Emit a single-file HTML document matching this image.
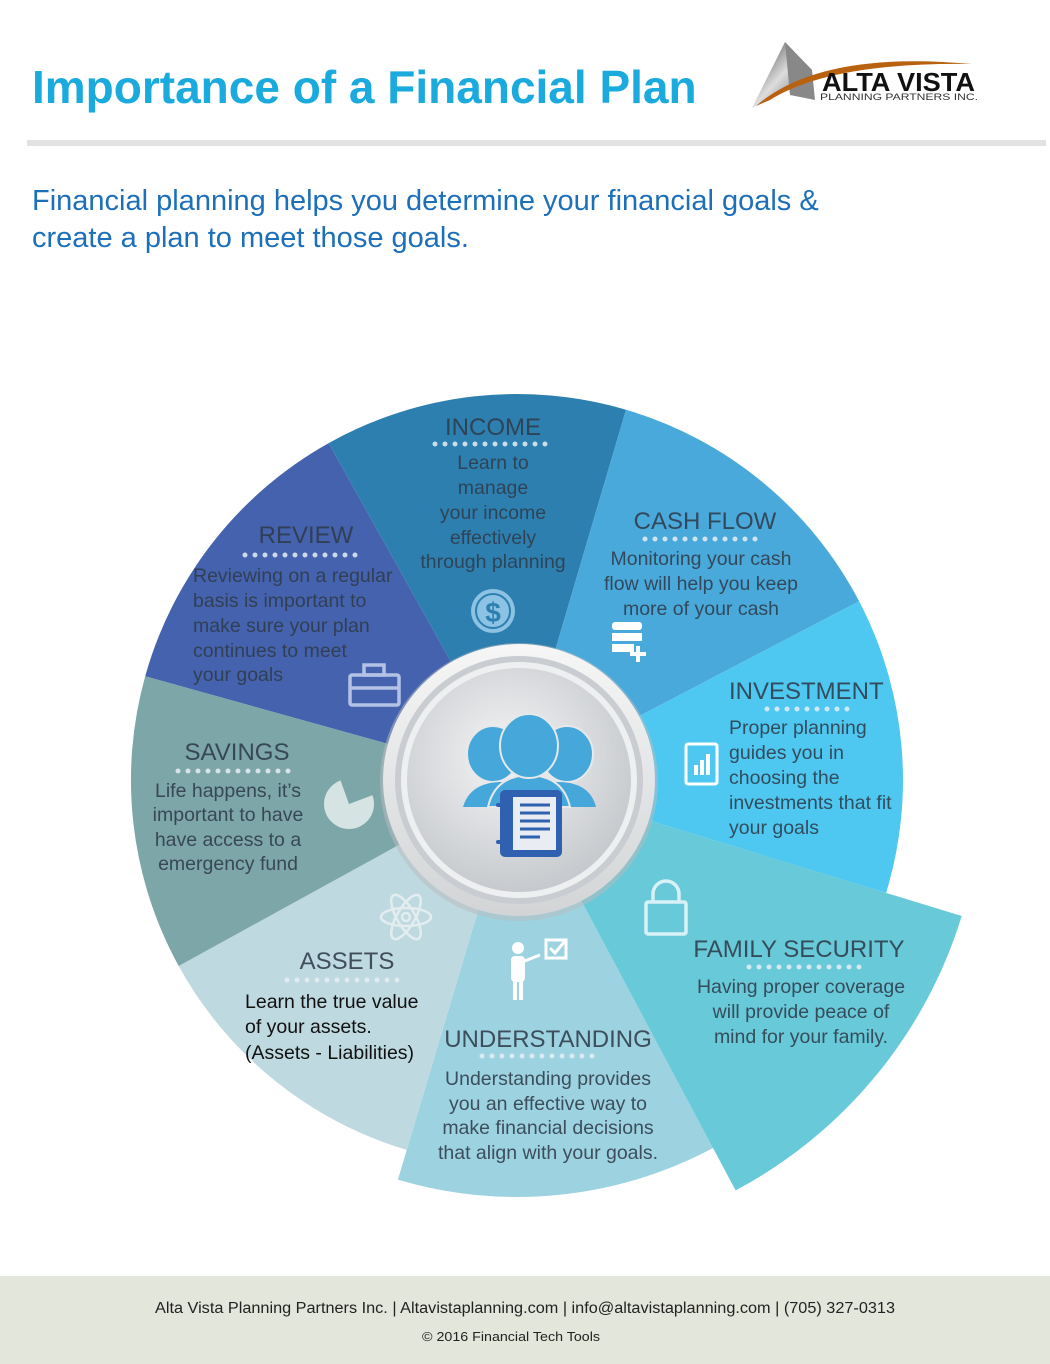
<!DOCTYPE html>
<html><head><meta charset="utf-8"><style>
html,body{margin:0;padding:0;background:#fff;}
body{width:1050px;height:1364px;position:relative;overflow:hidden;font-family:"Liberation Sans",Arial,sans-serif;}
</style></head><body>
<svg width="1050" height="1364" viewBox="0 0 1050 1364" xmlns="http://www.w3.org/2000/svg" style="position:absolute;left:0;top:0">
<defs>
<radialGradient id="disc" cx="0.45" cy="0.4" r="0.65"><stop offset="0" stop-color="#f4f5f6"/><stop offset="1" stop-color="#c3c6ca"/></radialGradient>
<linearGradient id="ring" x1="0" y1="0" x2="0" y2="1"><stop offset="0" stop-color="#f6f6f6"/><stop offset="1" stop-color="#d2d4d6"/></linearGradient>
<linearGradient id="tri" x1="0" y1="0" x2="1" y2="1"><stop offset="0" stop-color="#333"/><stop offset="0.5" stop-color="#ddd"/><stop offset="1" stop-color="#555"/></linearGradient>
</defs>
<!-- header -->
<text x="32" y="103" font-size="46" font-weight="bold" fill="#1aaadd">Importance of a Financial Plan</text>
<polygon points="785,42 752,108 770,98 812,70" fill="url(#tri)"/>
<polygon points="785,42 812,70 815,100 790,95" fill="#888"/>
<path d="M756,106 Q820,50 972,64 Q830,62 770,100 Z" fill="#b8620f"/>
<text x="822" y="91" font-size="26" font-weight="bold" fill="#111" textLength="153" lengthAdjust="spacingAndGlyphs">ALTA VISTA</text>
<text x="820" y="100" font-size="9.5" fill="#333" textLength="158" lengthAdjust="spacingAndGlyphs">PLANNING PARTNERS INC.</text>
<rect x="27" y="140" width="1019" height="6" fill="#e2e2e2"/>
<text x="32" y="210" font-size="29" fill="#1c6fb8">Financial planning helps you determine your financial goals &amp;</text>
<text x="32" y="247" font-size="29" fill="#1c6fb8">create a plan to meet those goals.</text>

<!-- wedges -->
<path d="M517,780 L145.2,676.2 A386,386 0 0 1 328.7,443.1 Z" fill="#4462ad"/>
<path d="M517,780 L328.7,443.1 A386,386 0 0 1 626,409.7 Z" fill="#2d7fb0"/>
<path d="M517,780 L626,409.7 A386,386 0 0 1 859.1,601.2 Z" fill="#4aa9db"/>
<path d="M517,780 L859.1,601.2 A386,386 0 0 1 886.1,892.9 Z" fill="#4ec8f0"/>
<path d="M517,780 L713.1,1148 A417,417 0 0 1 397.9,1179.6 Z" fill="#9dd3e0"/>
<path d="M517,780 L406.7,1149.9 A386,386 0 0 1 178.7,966 Z" fill="#bfd9e0"/>
<path d="M517,780 L178.7,966 A386,386 0 0 1 145.2,676.2 Z" fill="#7da6a8"/>
<path d="M517,780 L961.7,916 A465,465 0 0 1 735.6,1190.4 Z" fill="#68c9d9"/>

<!-- center -->
<circle cx="519" cy="782" r="139" fill="#b9bcc0" opacity="0.5"/>
<circle cx="519" cy="780" r="136" fill="url(#ring)"/>
<circle cx="519" cy="780" r="124" fill="#c9ccd0"/>
<circle cx="519" cy="780" r="118" fill="#eeeff0"/>
<circle cx="519" cy="780" r="112" fill="url(#disc)"/>
<ellipse cx="493" cy="754" rx="26" ry="28" fill="#45a7da" stroke="#e6e8ea" stroke-width="2"/>
<ellipse cx="567" cy="754" rx="26" ry="28" fill="#45a7da" stroke="#e6e8ea" stroke-width="2"/>
<path d="M463,807 Q470,783 500,782 L530,782 Q560,783 566,807 Z" fill="#45a7da"/>
<path d="M495,807 Q500,783 530,782 L560,782 Q590,783 596,807 Z" fill="#45a7da"/>
<path d="M488,807 Q495,776 529,775 Q563,776 570,807 Z" fill="#45a7da" stroke="#e6e8ea" stroke-width="2"/>
<ellipse cx="529" cy="746" rx="29" ry="32" fill="#45a7da" stroke="#e6e8ea" stroke-width="2"/>
<rect x="500" y="790" width="62" height="67" rx="5" fill="#3060b0"/>
<rect x="513" y="797" width="43" height="53" fill="#e9edf3"/>
<g stroke="#3060b0" stroke-width="3"><line x1="520" y1="805" x2="550" y2="805"/><line x1="520" y1="813" x2="550" y2="813"/><line x1="520" y1="821" x2="550" y2="821"/><line x1="520" y1="829" x2="550" y2="829"/><line x1="520" y1="837" x2="540" y2="837"/></g>
<rect x="496" y="803" width="10" height="4" rx="2" fill="#3060b0"/><rect x="496" y="840" width="10" height="4" rx="2" fill="#3060b0"/>

<!-- icons -->
<g fill="none" stroke="#c7d3ef" stroke-width="3.5" opacity="0.85">
<rect x="350" y="675" width="49" height="30" rx="2"/><rect x="364" y="665" width="20" height="10"/><line x1="350" y1="688" x2="399" y2="688"/>
</g>
<circle cx="493" cy="611" r="22" fill="#8cc2e3"/><circle cx="493" cy="611" r="17" fill="none" stroke="#2d7fb0" stroke-width="2"/>
<text x="493" y="622" font-size="28" font-weight="bold" fill="#2d7fb0" text-anchor="middle">$</text>
<g fill="#fff"><rect x="612" y="622" width="30" height="8" rx="3"/><rect x="612" y="633" width="30" height="8"/><rect x="612" y="644" width="22" height="8"/><rect x="636" y="646" width="4" height="16"/><rect x="630" y="652" width="16" height="4"/></g>
<rect x="686" y="744" width="31" height="40" rx="2" fill="none" stroke="#fff" stroke-width="3"/>
<g fill="#fff"><rect x="694" y="765" width="4" height="10"/><rect x="700" y="760" width="4" height="15"/><rect x="706" y="754" width="4" height="21"/></g>
<g fill="none" stroke="#e4f6fa" stroke-width="3.5" opacity="0.9"><rect x="646" y="902" width="40" height="32" rx="2"/><path d="M653,902 v-8 a13,13 0 0 1 26,0 v8"/></g>
<circle cx="349" cy="804" r="25" fill="#d5e3e3"/><path d="M349,804 L340,779 A25,25 0 0 1 373,795 Z" fill="#7da6a8"/>
<g fill="none" stroke="#e8f0f2" stroke-width="2.5" opacity="0.9"><ellipse cx="406" cy="917" rx="25" ry="9"/><ellipse cx="406" cy="917" rx="25" ry="9" transform="rotate(60 406 917)"/><ellipse cx="406" cy="917" rx="25" ry="9" transform="rotate(-60 406 917)"/><circle cx="406" cy="917" r="4"/></g>
<g fill="#fff"><circle cx="518" cy="948" r="6"/><rect x="511" y="956" width="14" height="26" rx="4"/><rect x="513" y="978" width="4" height="22"/><rect x="519" y="978" width="4" height="22"/><line x1="522" y1="962" x2="540" y2="955" stroke="#fff" stroke-width="3"/></g>
<rect x="546" y="940" width="20" height="18" fill="none" stroke="#fff" stroke-width="3"/><path d="M550,948 l5,5 l10,-12" fill="none" stroke="#fff" stroke-width="3"/>

<!-- text -->
<g font-size="19.5" fill="#2f3b4a" opacity="0.88">
<g text-anchor="middle">
<text x="493" y="435" font-size="24">INCOME</text>
<text x="493" y="469">Learn to</text><text x="493" y="494">manage</text><text x="493" y="519">your income</text><text x="493" y="544">effectively</text><text x="493" y="568">through planning</text>
<text x="306" y="543" font-size="24">REVIEW</text>
<text x="705" y="529" font-size="24">CASH FLOW</text>
<text x="701" y="565">Monitoring your cash</text><text x="701" y="590">flow will help you keep</text><text x="701" y="615">more of your cash</text>
<text x="237" y="760" font-size="24">SAVINGS</text>
<text x="228" y="797">Life happens, it’s</text><text x="228" y="821">important to have</text><text x="228" y="846">have access to a</text><text x="228" y="870">emergency fund</text>
<text x="347" y="969" font-size="24">ASSETS</text>
<text x="548" y="1047" font-size="24">UNDERSTANDING</text>
<text x="548" y="1085">Understanding provides</text><text x="548" y="1110">you an effective way to</text><text x="548" y="1134">make financial decisions</text><text x="548" y="1159">that align with your goals.</text>
<text x="799" y="957" font-size="24">FAMILY SECURITY</text>
<text x="801" y="993">Having proper coverage</text><text x="801" y="1018">will provide peace of</text><text x="801" y="1043">mind for your family.</text>
</g>
<text x="193" y="582">Reviewing on a regular</text><text x="193" y="607">basis is important to</text><text x="193" y="632">make sure your plan</text><text x="193" y="657">continues to meet</text><text x="193" y="681">your goals</text>
<text x="729" y="699" font-size="24">INVESTMENT</text>
<text x="729" y="734">Proper planning</text><text x="729" y="759">guides you in</text><text x="729" y="784">choosing the</text><text x="729" y="809">investments that fit</text><text x="729" y="834">your goals</text>
</g>
<g font-size="19.5" fill="#111"><text x="245" y="1008">Learn the true value</text><text x="245" y="1033">of your assets.</text><text x="245" y="1059">(Assets - Liabilities)</text></g>

<!-- dotted separators -->
<g fill="none" stroke="#e6edf5" stroke-width="5" stroke-linecap="round" stroke-dasharray="0 10" opacity="0.85">
<line x1="435" y1="444" x2="553" y2="444"/><line x1="245" y1="555" x2="363" y2="555"/>
<line x1="645" y1="539" x2="763" y2="539"/><line x1="767" y1="709" x2="855" y2="709"/>
<line x1="178" y1="771" x2="296" y2="771"/><line x1="287" y1="980" x2="405" y2="980"/>
<line x1="482" y1="1056" x2="600" y2="1056"/><line x1="749" y1="967" x2="867" y2="967"/>
</g>

<!-- footer -->
<rect x="0" y="1276" width="1050" height="88" fill="#e3e6da"/>
<text x="525" y="1313" font-size="15.5" fill="#222" text-anchor="middle" textLength="740" lengthAdjust="spacingAndGlyphs">Alta Vista Planning Partners Inc. | Altavistaplanning.com | info@altavistaplanning.com | (705) 327-0313</text>
<text x="511" y="1341" font-size="13" fill="#222" text-anchor="middle" textLength="178" lengthAdjust="spacingAndGlyphs">© 2016 Financial Tech Tools</text>
</svg>
</body></html>
